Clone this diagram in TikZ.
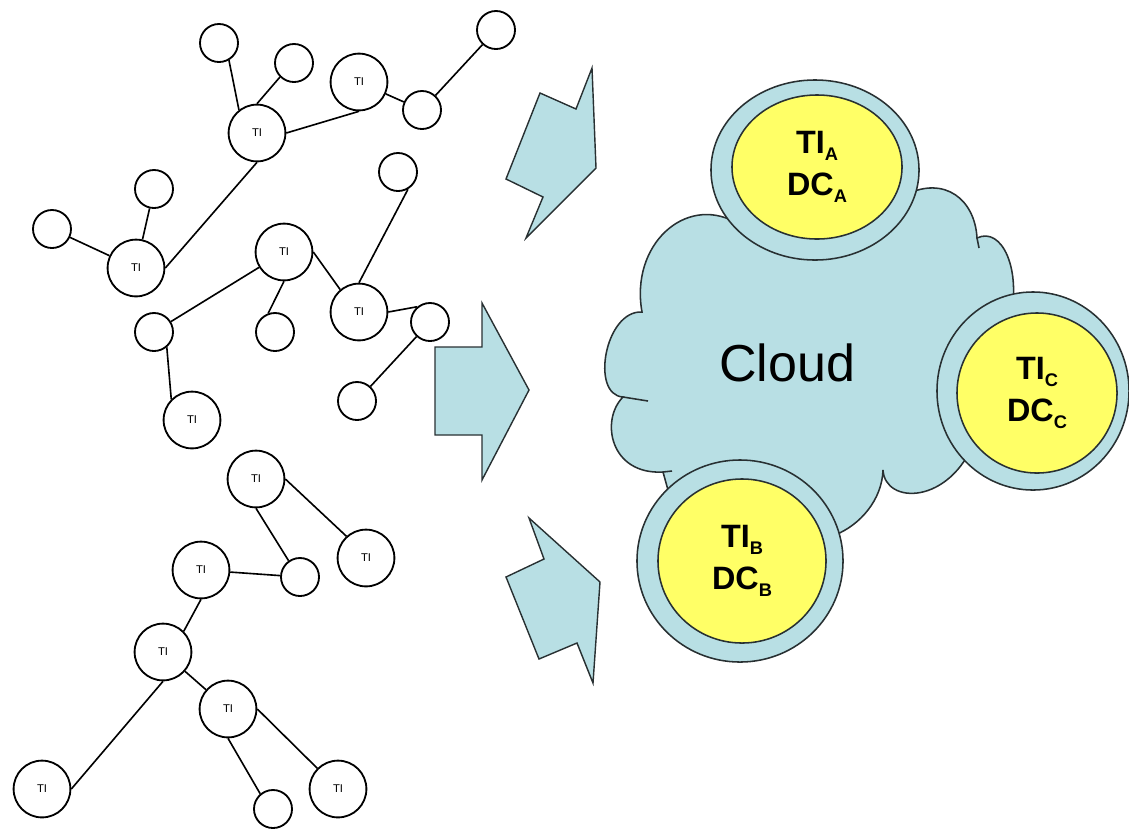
\documentclass[tikz,border=0pt]{standalone}
\usepackage{fontspec}
\setmainfont{Liberation Sans}
\usetikzlibrary{shapes.geometric}
\definecolor{cloudblue}{RGB}{184,223,228}
\definecolor{dcyellow}{RGB}{255,255,102}
\definecolor{outline}{RGB}{40,48,50}
\newcommand{\subl}[1]{\raisebox{-5pt}{\fontsize{13}{13}\selectfont #1}}

\begin{document}
\begin{tikzpicture}[x=0.025cm, y=-0.025cm,
		tinode/.style={circle, draw, line width=1.3pt, fill=white, minimum size=1.42cm, inner sep=0pt, font=\fontsize{8}{8}\selectfont},
		leaf/.style={circle, draw, line width=1.3pt, fill=white, minimum size=0.95cm, inner sep=0pt},
		link/.style={line width=1.15pt},
		blockarrow/.style={draw=outline, fill=cloudblue, line width=1pt, line join=miter},
		ring/.style={ellipse, draw=outline, fill=cloudblue, line width=1.1pt, inner sep=0pt},
		core/.style={ellipse, draw=outline, fill=dcyellow, line width=1.1pt, inner sep=0pt, align=center, font=\fontsize{23}{30}\selectfont\bfseries}]
		\useasboundingbox (0,0) rectangle (1129,831);

		% the trees of TI nodes
		\node[tinode] (ti1) at (257,133) {TI};
		\node[tinode] (ti2) at (359,82) {TI};
		\node[tinode] (ti3) at (136,268) {TI};
		\node[tinode] (ti4) at (284,252) {TI};
		\node[tinode] (ti5) at (359,312) {TI};
		\node[tinode] (ti6) at (192,420) {TI};
		\node[tinode] (ti7) at (256,479) {TI};
		\node[tinode] (ti8) at (366,558) {TI};
		\node[tinode] (ti9) at (201,570) {TI};
		\node[tinode] (ti10) at (163,652) {TI};
		\node[tinode] (ti11) at (228,709) {TI};
		\node[tinode] (ti12) at (42,789) {TI};
		\node[tinode] (ti13) at (338,789) {TI};

		\node[leaf] (n1) at (219,43) {};
		\node[leaf] (n2) at (294,63) {};
		\node[leaf] (n3) at (422,110) {};
		\node[leaf] (n4) at (496,30) {};
		\node[leaf] (n5) at (398,172) {};
		\node[leaf] (n6) at (154,189) {};
		\node[leaf] (n7) at (52,229) {};
		\node[leaf] (n8) at (154,332) {};
		\node[leaf] (n9) at (275,332) {};
		\node[leaf] (n10) at (430,322) {};
		\node[leaf] (n11) at (357,401) {};
		\node[leaf] (n12) at (300,577) {};
		\node[leaf] (n13) at (273,809) {};

		\foreach \a/\b in {n1.-60/ti1.128, n2.225/ti1.north, ti1.east/ti2.south, ti2/n3, n3/n4,
				ti1.south/ti3.east, n6/ti3, n7/ti3, n5.-60/ti5.north, ti4/n8, ti4.south/n9.110,
				ti4.east/ti5.130, ti5.east/n10.130, n10/n11, n8.-50/ti6.135,
				ti7.east/ti8.132, ti7.south/n12.125, ti9/n12, ti9.south/ti10.45, ti10/ti11,
				ti10.south/ti12.east, ti11.south/n13.130, ti11.east/ti13.135}
			\draw[link] (\a) -- (\b);

		% arrows towards the cloud
		\draw[blockarrow] (592,68) -- (596,168) -- (526,238) -- (543,197) -- (506,179) -- (540,93) -- (576,109) -- cycle;
		\draw[blockarrow] (435,347) -- (482,347) -- (482,303) -- (529,390) -- (482,480) -- (482,435) -- (435,435) -- cycle;
		\draw[blockarrow] (529,518) -- (600,582) -- (593,683) -- (577,643) -- (539,659) -- (506,577) -- (544,559) -- cycle;

		% cloud
		\filldraw[draw=outline, fill=cloudblue, line width=1.1pt] (735,222)
			.. controls (685,195) and (630,245) .. (642,312)
			.. controls (605,310) and (590,395) .. (623,397)
			.. controls (600,420) and (610,475) .. (663,472)
			-- (668,490) -- (835,535)
			.. controls (860,525) and (882,500) .. (883,470)
			.. controls (885,505) and (950,505) .. (975,440)
			-- (1010,320)
			.. controls (1022,270) and (1002,226) .. (977,238)
			.. controls (975,200) and (945,175) .. (905,195)
			-- cycle;
		\draw[outline, line width=1.1pt] (623,397) -- (648,401);
		\draw[outline, line width=1.1pt] (663,472) -- (672,471);
		\draw[outline, line width=1.1pt] (977,238) -- (979,248);
		\node[font=\fontsize{37}{37}\selectfont] (cloud) at (787,363) {Cloud};

		% data centres
		\node[ring, minimum width=5.2cm, minimum height=4.5cm] (ringa) at (815,170) {};
		\node[core, minimum width=4.25cm, minimum height=3.6cm] (dca) at (817,167) {TI\subl{A}\\DC\subl{A}};
		\node[ring, minimum width=5.15cm, minimum height=5.05cm] (ringb) at (740,561) {};
		\node[core, minimum width=4.2cm, minimum height=4.1cm] (dcb) at (742,561) {TI\subl{B}\\DC\subl{B}};
		\node[ring, minimum width=4.8cm, minimum height=4.95cm] (ringc) at (1033,391) {};
		\node[core, minimum width=4.0cm, minimum height=4.0cm] (dcc) at (1037,393) {TI\subl{C}\\DC\subl{C}};
\end{tikzpicture}
\end{document}
